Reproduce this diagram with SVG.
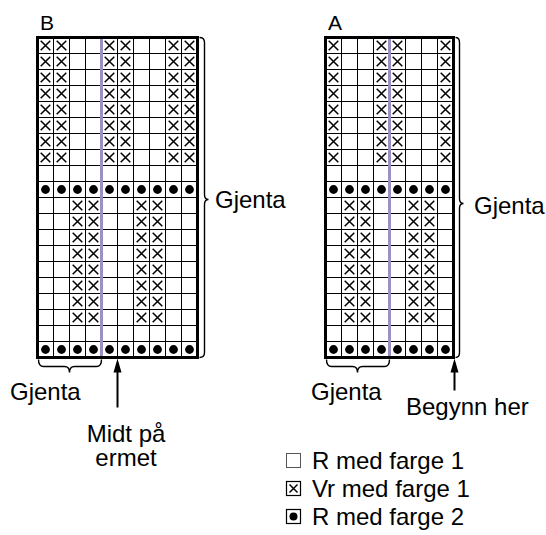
<svg xmlns="http://www.w3.org/2000/svg" xmlns:xlink="http://www.w3.org/1999/xlink" width="546" height="535" viewBox="0 0 546 535">
  <style>
    .lbl { font-family: "Liberation Sans", Arial, Helvetica, sans-serif; font-size: 24px; fill: #000; }
    .title { font-family: "Liberation Sans", Arial, Helvetica, sans-serif; font-size: 21px; fill: #000; }
    .leg { font-family: "Liberation Sans", Arial, Helvetica, sans-serif; font-size: 24px; fill: #000; }
    .grid { fill: none; stroke: #000; stroke-width: 1; }
    .mid { stroke: #9b8fc6; stroke-width: 3; }
    .frame { fill: none; stroke: #000; stroke-width: 3; }
    .xm { fill: none; stroke: #000; stroke-width: 1.5; }
    .brace { fill: none; stroke: #000; stroke-width: 1.4; }
    .arr { stroke: #000; stroke-width: 2; }
  </style>
  <defs>
    <!-- one 16x16 cell symbol each -->
    <path id="x" class="xm" d="M3.2 3.2 L12.8 12.8 M12.8 3.2 L3.2 12.8"/>
    <circle id="dot" cx="8" cy="8" r="4.4" fill="#000"/>
    <!-- chart B rows -->
    <g id="bTop"><use href="#x" x="0"/><use href="#x" x="16"/><use href="#x" x="64"/><use href="#x" x="80"/><use href="#x" x="128"/><use href="#x" x="144"/></g>
    <g id="bLow"><use href="#x" x="32"/><use href="#x" x="48"/><use href="#x" x="96"/><use href="#x" x="112"/></g>
    <g id="bDots"><use href="#dot" x="0"/><use href="#dot" x="16"/><use href="#dot" x="32"/><use href="#dot" x="48"/><use href="#dot" x="64"/><use href="#dot" x="80"/><use href="#dot" x="96"/><use href="#dot" x="112"/><use href="#dot" x="128"/><use href="#dot" x="144"/></g>
    <!-- chart A rows -->
    <g id="aTop"><use href="#x" x="0"/><use href="#x" x="48"/><use href="#x" x="64"/><use href="#x" x="112"/></g>
    <g id="aLow"><use href="#x" x="16"/><use href="#x" x="32"/><use href="#x" x="80"/><use href="#x" x="96"/></g>
    <g id="aDots"><use href="#dot" x="0"/><use href="#dot" x="16"/><use href="#dot" x="32"/><use href="#dot" x="48"/><use href="#dot" x="64"/><use href="#dot" x="80"/><use href="#dot" x="96"/><use href="#dot" x="112"/></g>
  </defs>

  <rect width="546" height="535" fill="#fff"/>

  <g transform="translate(0.5,0.5)">
    <!-- Chart B: 10 stitches x 20 rows -->
    <g id="chartB">
      <text class="title" x="39.5" y="29.5">B</text>
      <path class="grid" d="M53 37V357 M69 37V357 M85 37V357 M117 37V357 M133 37V357 M149 37V357 M165 37V357 M181 37V357
        M37 53H197 M37 69H197 M37 85H197 M37 101H197 M37 117H197 M37 133H197 M37 149H197 M37 165H197 M37 181H197 M37 197H197
        M37 213H197 M37 229H197 M37 245H197 M37 261H197 M37 277H197 M37 293H197 M37 309H197 M37 325H197 M37 341H197"/>
      <line class="mid" x1="101" y1="37" x2="101" y2="357"/>
      <use href="#bTop" x="37" y="37"/><use href="#bTop" x="37" y="53"/><use href="#bTop" x="37" y="69"/><use href="#bTop" x="37" y="85"/>
      <use href="#bTop" x="37" y="101"/><use href="#bTop" x="37" y="117"/><use href="#bTop" x="37" y="133"/><use href="#bTop" x="37" y="149"/>
      <use href="#bDots" x="37" y="181"/>
      <use href="#bLow" x="37" y="197"/><use href="#bLow" x="37" y="213"/><use href="#bLow" x="37" y="229"/><use href="#bLow" x="37" y="245"/>
      <use href="#bLow" x="37" y="261"/><use href="#bLow" x="37" y="277"/><use href="#bLow" x="37" y="293"/><use href="#bLow" x="37" y="309"/>
      <use href="#bDots" x="37" y="341"/>
      <rect class="frame" x="37" y="37" width="160" height="320"/>
    </g>

    <!-- Chart A: 8 stitches x 20 rows -->
    <g id="chartA">
      <text class="title" x="327.5" y="29.5">A</text>
      <path class="grid" d="M341 37V357 M357 37V357 M373 37V357 M405 37V357 M421 37V357 M437 37V357
        M325 53H453 M325 69H453 M325 85H453 M325 101H453 M325 117H453 M325 133H453 M325 149H453 M325 165H453 M325 181H453 M325 197H453
        M325 213H453 M325 229H453 M325 245H453 M325 261H453 M325 277H453 M325 293H453 M325 309H453 M325 325H453 M325 341H453"/>
      <line class="mid" x1="389" y1="37" x2="389" y2="357"/>
      <use href="#aTop" x="325" y="37"/><use href="#aTop" x="325" y="53"/><use href="#aTop" x="325" y="69"/><use href="#aTop" x="325" y="85"/>
      <use href="#aTop" x="325" y="101"/><use href="#aTop" x="325" y="117"/><use href="#aTop" x="325" y="133"/><use href="#aTop" x="325" y="149"/>
      <use href="#aDots" x="325" y="181"/>
      <use href="#aLow" x="325" y="197"/><use href="#aLow" x="325" y="213"/><use href="#aLow" x="325" y="229"/><use href="#aLow" x="325" y="245"/>
      <use href="#aLow" x="325" y="261"/><use href="#aLow" x="325" y="277"/><use href="#aLow" x="325" y="293"/><use href="#aLow" x="325" y="309"/>
      <use href="#aDots" x="325" y="341"/>
      <rect class="frame" x="325" y="37" width="128" height="320"/>
    </g>

    <!-- braces and arrows -->
    <g id="connectors">
      <path class="brace" d="M199 37 Q204 37 204 42 V194 Q204 199 208 199 Q204 199 204 204 V352 Q204 357 199 357"/>
      <path class="brace" d="M455 37 Q459 37 459 42 V198 Q459 203 463 203 Q459 203 459 208 V352 Q459 357 455 357"/>
      <path class="brace" d="M38 359 Q38 366 43 366 H64 Q69 366 69 372 Q69 366 74 366 H96 Q101 366 101 359"/>
      <path class="brace" d="M326 359 Q326 366 331 366 H352 Q357 366 357 372 Q357 366 362 366 H384 Q389 366 389 359"/>
      <line class="arr" x1="117" y1="370" x2="117" y2="407"/>
      <path d="M117 358 L121 372 L113 372 Z" fill="#000"/>
      <line class="arr" x1="454" y1="370" x2="454" y2="390"/>
      <path d="M454 358 L458 372 L450 372 Z" fill="#000"/>
    </g>
  </g>

  <g id="labels">
    <text class="lbl" x="215" y="208">Gjenta</text>
    <text class="lbl" x="474" y="214">Gjenta</text>
    <text class="lbl" x="10" y="400">Gjenta</text>
    <text class="lbl" x="311" y="400">Gjenta</text>
    <text class="lbl" x="126" y="442" text-anchor="middle">Midt på</text>
    <text class="lbl" x="126" y="466" text-anchor="middle">ermet</text>
    <text class="lbl" x="406" y="415">Begynn her</text>
  </g>

  <!-- key -->
  <g id="legend">
    <rect x="286.5" y="453.5" width="14" height="14" fill="#fff" stroke="#555" stroke-width="1"/>
    <text class="leg" x="312" y="469">R med farge 1</text>
    <rect x="286.5" y="481.5" width="14" height="14" fill="#fff" stroke="#000" stroke-width="1.2"/>
    <path class="xm" d="M289.5 484.5 L297.5 492.5 M297.5 484.5 L289.5 492.5"/>
    <text class="leg" x="312" y="497">Vr med farge 1</text>
    <rect x="286.5" y="509.5" width="14" height="14" fill="#fff" stroke="#000" stroke-width="1.2"/>
    <circle cx="293.5" cy="516.5" r="4" fill="#000"/>
    <text class="leg" x="312" y="525">R med farge 2</text>
  </g>
</svg>
